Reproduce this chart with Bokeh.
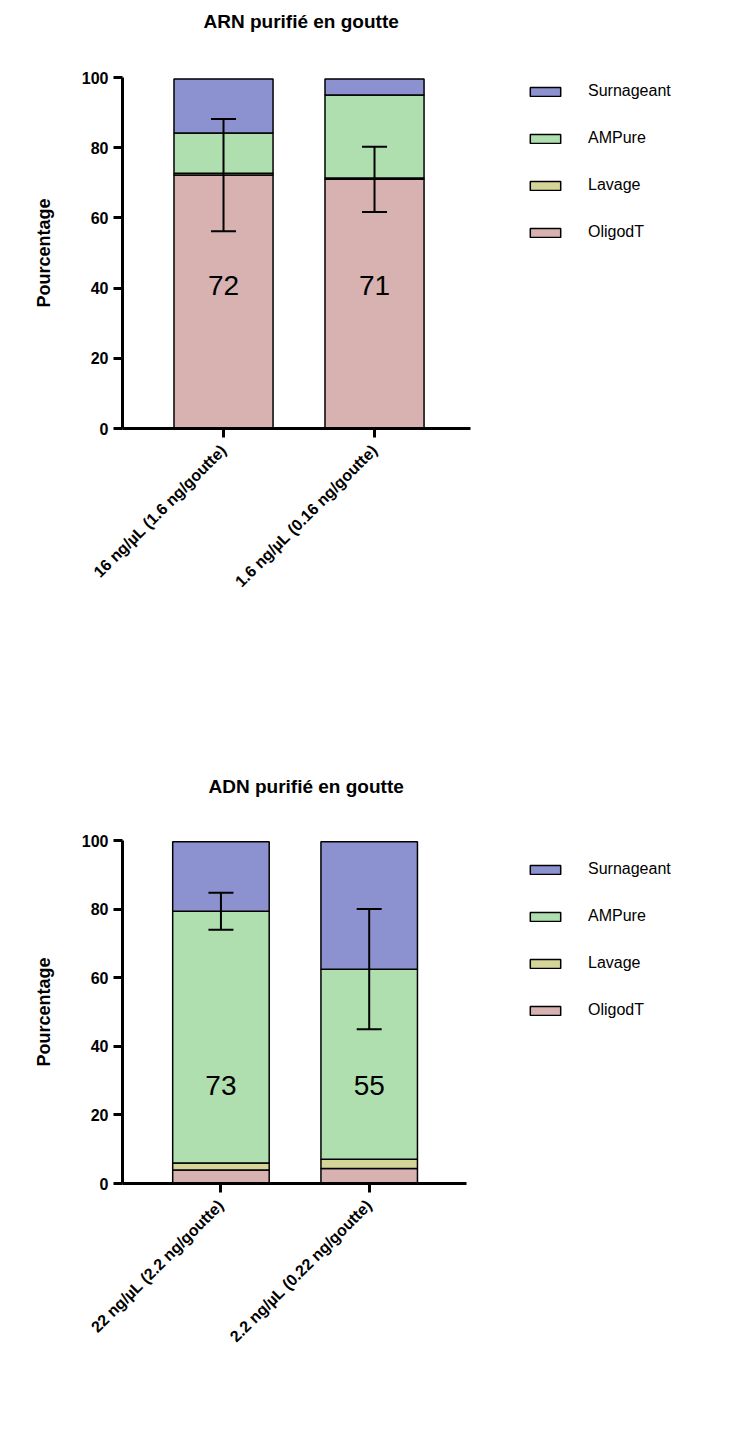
import math
import numpy as np
from bokeh.plotting import figure
from bokeh.models import (ColumnDataSource, Range1d, FixedTicker, Legend, LegendItem,
                          Whisker, TeeHead, Title)
from bokeh.layouts import column
from bokeh.embed import file_html
from bokeh.resources import INLINE
from bokeh.core.properties import value

# ---------------- data ----------------
series = ["OligodT", "Lavage", "AMPure", "Surnageant"]
series_colors = ["#d8b1b1", "#d5d59a", "#afdfaf", "#8c92cf"]

arn_title = "ARN purifié en goutte"
arn_categories = ["16 ng/µL (1.6 ng/goutte)", "1.6 ng/µL (0.16 ng/goutte)"]
arn_oligodt = [72.2, 71.0]
arn_lavage = [0.5, 0.4]
arn_ampure = [11.5, 23.6]
arn_surnageant = [15.4, 4.6]
arn_err = [16.0, 9.3]          # error bar half-width around OligodT top
arn_labels = ["72", "71"]

adn_title = "ADN purifié en goutte"
adn_categories = ["22 ng/µL (2.2 ng/goutte)", "2.2 ng/µL (0.22 ng/goutte)"]
adn_oligodt = [3.9, 4.4]
adn_lavage = [2.1, 2.7]
adn_ampure = [73.4, 55.4]
adn_surnageant = [20.2, 37.1]
adn_err = [5.4, 17.5]          # error bar half-width around AMPure top
adn_labels = ["73", "55"]

y_ticks = [0, 20, 40, 60, 80, 100]
FONT = "Liberation Sans"
FIG_W = 723


def make_chart(title, cats, stacks, err, err_idx, labels, label_y,
               height, border_top, frame_h, border_left, px_per_unit,
               x_start, axis_end, bar_w, legend_loc, title_gap, title_offset):
    frame_w = FIG_W - border_left - 2
    x_end = x_start + frame_w / px_per_unit
    p = figure(width=FIG_W, height=height, output_backend="svg", toolbar_location=None,
               x_range=Range1d(x_start, x_end), y_range=Range1d(0, 100),
               min_border_left=border_left, min_border_top=border_top,
               min_border_right=2,
               min_border_bottom=height - border_top - frame_h)
    # spacer between frame and title, then the title itself
    p.add_layout(Title(text=" ", text_font_size="1px", standoff=title_gap), "above")
    p.add_layout(Title(text=title, text_font=FONT, text_font_size="19px",
                       text_font_style="bold", align="left", offset=title_offset,
                       standoff=0, text_color="black"), "above")
    p.outline_line_color = None
    p.xgrid.visible = False
    p.ygrid.visible = False

    xs = [1, 2]
    cum = np.zeros(len(xs))
    renderers = {}
    for name, col, vals in zip(series, series_colors, stacks):
        vals = np.array(vals, dtype=float)
        src = ColumnDataSource(dict(x=xs, bottom=cum.copy(), top=cum + vals))
        r = p.vbar(x="x", width=bar_w, bottom="bottom", top="top", source=src,
                   fill_color=col, line_color="black", line_width=1.5)
        renderers[name] = r
        cum = cum + vals

    # error bars
    base_top = np.sum(np.array(stacks[:err_idx + 1], dtype=float), axis=0)
    esrc = ColumnDataSource(dict(x=xs, lower=base_top - np.array(err), upper=base_top + np.array(err)))
    w = Whisker(base="x", lower="lower", upper="upper", source=esrc, line_width=2,
                line_color="black", level="overlay",
                upper_head=TeeHead(size=25, line_width=2, line_color="black"),
                lower_head=TeeHead(size=25, line_width=2, line_color="black"))
    p.add_layout(w)

    # value labels
    tsrc = ColumnDataSource(dict(x=xs, y=[label_y] * len(xs), t=labels))
    p.text(x="x", y="y", text="t", source=tsrc, text_align="center", text_baseline="middle",
           text_font=value(FONT), text_font_size="28px", text_color="black")

    # axes
    for ax in (p.xaxis[0], p.yaxis[0]):
        ax.axis_line_width = 3
        ax.axis_line_color = "black"
        ax.major_tick_line_width = 3
        ax.major_tick_out = 9
        ax.major_tick_in = 0
        ax.minor_tick_line_color = None
        ax.major_label_text_font = FONT
        ax.major_label_text_font_style = "bold"
        ax.major_label_text_color = "black"
        ax.major_label_text_font_size = "16px"
    p.xaxis.bounds = (x_start, axis_end)
    p.xaxis.ticker = FixedTicker(ticks=xs)
    p.xaxis.major_label_overrides = {1: cats[0], 2: cats[1]}
    p.xaxis.major_label_orientation = math.pi / 4
    p.xaxis.major_label_standoff = 10
    p.yaxis.ticker = FixedTicker(ticks=y_ticks)
    p.yaxis.axis_label = "Pourcentage"
    p.yaxis.axis_label_text_font = FONT
    p.yaxis.axis_label_text_font_size = "18px"
    p.yaxis.axis_label_text_font_style = "bold"
    p.yaxis.axis_label_text_color = "black"
    p.yaxis.axis_label_standoff = 25

    items = [LegendItem(label=n, renderers=[renderers[n]]) for n in reversed(series)]
    leg = Legend(items=items, location=legend_loc, padding=0, margin=0,
                 border_line_color=None, background_fill_alpha=0,
                 glyph_width=38, glyph_height=11, label_height=20, spacing=27,
                 label_standoff=24, label_text_font=FONT, label_text_font_size="16px",
                 label_text_color="black")
    p.add_layout(leg)
    return p


p1 = make_chart(arn_title, arn_categories,
                [arn_oligodt, arn_lavage, arn_ampure, arn_surnageant], arn_err, 0,
                arn_labels, 40.7,
                height=730, border_top=77, frame_h=351, border_left=122, px_per_unit=151,
                x_start=0.331, axis_end=2.636, bar_w=0.656, legend_loc=(404, 186),
                title_gap=43, title_offset=81)
p2 = make_chart(adn_title, adn_categories,
                [adn_oligodt, adn_lavage, adn_ampure, adn_surnageant], adn_err, 2,
                adn_labels, 28.6,
                height=699, border_top=110, frame_h=343, border_left=119, px_per_unit=149,
                x_start=0.336, axis_end=2.658, bar_w=0.651, legend_loc=(404, 163),
                title_gap=41, title_offset=86)

layout = column(p1, p2, spacing=0)
open("out.html", "w").write(file_html(layout, INLINE))
